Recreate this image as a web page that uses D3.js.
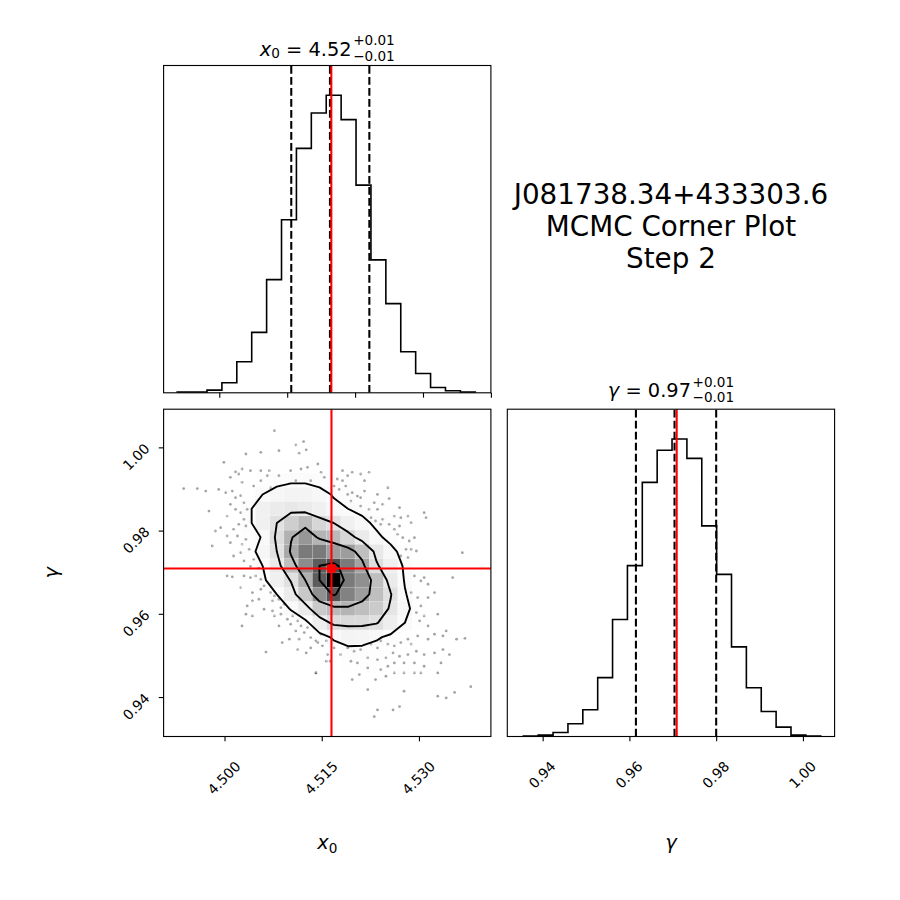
<!DOCTYPE html>
<html><head><meta charset="utf-8">
<script src="https://cdn.jsdelivr.net/npm/d3@7"></script>
<style>
html,body{margin:0;padding:0;background:#fff;}
svg{display:block;font-family:"DejaVu Sans",sans-serif;}
</style></head><body>
<svg id="chart" width="900" height="900"></svg>
<script>
// ---------------- data ----------------
const titleLines = ["J081738.34+433303.6", "MCMC Corner Plot", "Step 2"];
const truthX0 = 4.5165;
const truthGamma = 0.9709;
const quantilesX0 = [4.5106, 4.5163, 4.5221];      // 16, 50, 84 %
const quantilesGamma = [0.9615, 0.9704, 0.9800];
// 1-D histograms (20 bins each)
const histX0Counts = [2, 2, 8, 30, 93, 181, 339, 518, 732, 838, 891, 818, 622, 398, 267, 123, 58, 16, 6, 2];
const histGammaCounts = [1, 4, 12, 38, 80, 176, 350, 511, 760, 856, 890, 832, 630, 485, 268, 146, 75, 28, 4, 1];
const binRangeX0 = [4.4938, 4.5377];
const binRangeGamma = [0.93555, 1.0041];
// axis limits
const limitsTopX0 = [4.4918, 4.5400];
const limits2dX0 = [4.4906, 4.5411];
const limits2dGamma = [0.93052, 1.00917];
const limitsRightGamma = [0.93185, 1.0073];
// ticks
const ticksTopX0 = [4.50, 4.51, 4.52, 4.53, 4.54];
const ticksX0 = [4.500, 4.515, 4.530];
const ticksGamma = [0.94, 0.96, 0.98, 1.00];
// smoothed 2-D histogram (rows: highest gamma first; columns: lowest x0 first)
const density2d = [
  [0,0,0,0,0,1,1,1,1,1,1,0,0,0,0,0,0,0,0,0],
  [0,0,0,0,1,2,2,3,3,2,2,1,0,0,0,0,0,0,0,0],
  [0,0,0,1,2,4,5,6,6,5,4,2,1,0,0,0,0,0,0,0],
  [0,0,1,2,4,7,10,12,12,10,8,5,2,1,0,0,0,0,0,0],
  [0,0,1,3,7,14,19,21,21,18,13,9,5,2,1,0,0,0,0,0],
  [0,0,1,3,11,24,28,30,28,24,17,14,10,5,2,1,0,0,0,0],
  [0,0,1,4,11,24,34,44,52,40,34,24,18,11,5,2,1,0,0,0],
  [0,0,1,3,8,15,37,55,64,54,52,40,28,17,10,4,1,0,0,0],
  [0,0,1,3,9,19,34,58,72,72,62,62,50,30,18,9,3,1,0,0],
  [0,0,0,2,6,14,28,50,67,80,84,72,60,36,24,12,5,2,0,0],
  [0,0,0,1,4,11,24,35,56,80,100,72,66,50,28,13,5,2,0,0],
  [0,0,0,1,2,6,14,28,46,66,82,70,62,50,35,15,6,2,1,0],
  [0,0,0,0,1,3,7,15,28,46,52,54,50,45,32,18,7,3,1,0],
  [0,0,0,0,0,1,3,6,10,26,37,38,38,35,26,14,6,2,1,0],
  [0,0,0,0,0,0,1,2,4,9,16,21,20,16,11,6,3,1,0,0],
  [0,0,0,0,0,0,0,1,2,4,7,10,10,8,6,3,2,1,0,0],
  [0,0,0,0,0,0,0,0,1,2,3,5,5,5,3,2,1,0,0,0],
  [0,0,0,0,0,0,0,0,0,1,1,2,3,2,2,1,1,0,0,0],
  [0,0,0,0,0,0,0,0,0,0,1,1,1,1,1,0,0,0,0,0],
  [0,0,0,0,0,0,0,0,0,0,0,1,0,0,0,0,0,0,0,0]
];
const contourLevels = [14, 34, 56, 80];
// visible posterior samples (outside the contours)
const samplesX0 = [4.5077,4.5122,4.5110,4.5126,4.5115,4.5033,4.4999,4.5027,4.5017,4.5040,4.5056,4.5069,4.5066,4.5084,4.5102,4.5118,4.5128,4.5144,4.5149,4.5133,
4.5110,4.5009,4.5027,4.5045,4.4937,4.4958,4.4971,4.4991,4.5012,4.5017,4.5030,4.4976,4.5009,4.5017,4.5025,4.5030,4.5022,4.5014,4.4994,4.4986,
4.4981,4.5009,4.5027,4.5033,4.5038,4.5025,4.5014,4.5030,4.5045,4.5040,4.5053,4.5087,4.5071,4.5154,4.5100,4.5056,4.5022,4.5002,4.5025,4.5004,
4.5035,4.5033,4.5004,4.5020,4.5056,4.5084,4.5182,4.5174,4.5182,4.5190,4.5197,4.5210,4.5216,4.5223,4.5169,4.5177,4.5190,4.5197,4.5205,4.5210,
4.5195,4.5216,4.5252,4.5254,4.5236,4.5231,4.5210,4.5223,4.5236,4.5244,4.5270,4.5262,4.5272,4.5283,4.5288,4.5308,4.5311,4.5244,4.5254,4.5262,
4.5267,4.5275,4.5285,4.5293,4.5280,4.5288,4.5296,4.5272,4.5283,4.5367,4.5226,4.5233,4.5241,4.5187,4.5161,4.5270,4.5004,4.5012,4.5030,4.5040,
4.5048,4.5056,4.5025,4.5043,4.5056,4.5061,4.5071,4.5077,4.5074,4.5084,4.5087,4.5092,4.5043,4.5053,4.5035,4.5033,4.5043,4.5027,4.5061,4.5074,
4.5077,4.5087,4.5097,4.5105,4.5102,4.5113,4.5118,4.5110,4.5123,4.5128,4.5133,4.5141,4.5144,4.5149,4.5151,4.5157,4.5084,4.5089,4.5100,4.5115,
4.5064,4.5126,4.5141,4.5157,4.5159,4.5113,4.5133,4.5293,4.5303,4.5314,4.5308,4.5352,4.5288,4.5298,4.5314,4.5324,4.5303,4.5296,4.5308,4.5329,
4.5301,4.5314,4.5324,4.5337,4.5342,4.5358,4.5371,4.5314,4.5298,4.5283,4.5288,4.5272,4.5262,4.5252,4.5241,4.5236,4.5226,4.5210,4.5200,4.5190,
4.5179,4.5169,4.5163,4.5195,4.5205,4.5221,4.5236,4.5249,4.5260,4.5270,4.5283,4.5296,4.5308,4.5324,4.5337,4.5347,4.5334,4.5308,4.5293,4.5277,
4.5262,4.5252,4.5241,4.5221,4.5208,4.5197,4.5233,4.5249,4.5262,4.5277,4.5293,4.5303,4.5329,4.5221,4.5277,4.5329,4.5355,4.5380,4.5236,4.5270,
4.5260,4.5231,4.5141,4.5342];
const samplesGamma = [1.0040,1.0014,1.0006,0.9994,0.9986,0.9984,0.9964,0.9948,0.9941,0.9944,0.9944,0.9944,0.9932,0.9932,0.9944,0.9948,0.9952,0.9960,0.9940,0.9920,
0.9920,0.9928,0.9916,0.9907,0.9901,0.9901,0.9895,0.9899,0.9895,0.9879,0.9867,0.9847,0.9863,0.9851,0.9843,0.9827,0.9815,0.9803,0.9807,0.9799,
0.9763,0.9771,0.9767,0.9779,0.9755,0.9747,0.9739,0.9727,0.9731,0.9714,0.9710,0.9907,0.9903,0.9928,0.9912,0.9920,0.9936,0.9891,0.9884,0.9835,
0.9851,0.9811,0.9787,0.9787,0.9988,0.9992,0.9944,0.9924,0.9920,0.9932,0.9940,0.9936,0.9920,0.9940,0.9907,0.9899,0.9887,0.9891,0.9883,0.9879,
0.9871,0.9895,0.9903,0.9877,0.9887,0.9867,0.9859,0.9851,0.9851,0.9863,0.9855,0.9835,0.9831,0.9835,0.9819,0.9843,0.9831,0.9827,0.9815,0.9803,
0.9791,0.9783,0.9775,0.9783,0.9755,0.9755,0.9751,0.9739,0.9735,0.9747,0.9831,0.9823,0.9815,0.9907,0.9879,0.9811,0.9691,0.9689,0.9691,0.9687,
0.9691,0.9683,0.9663,0.9651,0.9659,0.9667,0.9651,0.9643,0.9631,0.9635,0.9615,0.9623,0.9631,0.9635,0.9619,0.9599,0.9595,0.9571,0.9611,0.9607,
0.9595,0.9599,0.9587,0.9595,0.9575,0.9583,0.9571,0.9559,0.9555,0.9567,0.9543,0.9535,0.9531,0.9551,0.9523,0.9535,0.9571,0.9531,0.9539,0.9539,
0.9508,0.9506,0.9458,0.9486,0.9502,0.9514,0.9518,0.9691,0.9679,0.9671,0.9687,0.9687,0.9651,0.9639,0.9639,0.9651,0.9619,0.9603,0.9595,0.9599,
0.9583,0.9571,0.9551,0.9547,0.9559,0.9539,0.9541,0.9539,0.9547,0.9539,0.9527,0.9531,0.9523,0.9527,0.9535,0.9518,0.9527,0.9514,0.9510,0.9518,
0.9502,0.9518,0.9486,0.9486,0.9482,0.9494,0.9490,0.9494,0.9506,0.9498,0.9502,0.9510,0.9502,0.9506,0.9514,0.9502,0.9482,0.9474,0.9482,0.9482,
0.9482,0.9474,0.9466,0.9470,0.9454,0.9442,0.9442,0.9450,0.9458,0.9458,0.9458,0.9458,0.9458,0.9418,0.9414,0.9402,0.9411,0.9425,0.9369,0.9377,
0.9369,0.9353,0.9458,0.9398];

// ---------------- layout ----------------
const svg = d3.select("#chart");
const C0 = [163.6, 490.9], C1 = [507.3, 834.6], R0 = [65.5, 392.8], R1 = [409.2, 736.5];
const FRAME_W = 1.11, TICK_LEN = 4.86, LW = 2.08;
const TICK_FS = 13.9, TITLE_FS = 19.4, LABEL_FS = 19.4, BIG_FS = 27.8;
const RED = "#ff0000";
const fmt2 = d3.format(".2f");

const defs = svg.append("defs");
function panel(id, cx, ry) {
  defs.append("clipPath").attr("id", id).append("rect")
    .attr("x", cx[0]).attr("y", ry[0]).attr("width", cx[1]-cx[0]).attr("height", ry[1]-ry[0]);
  return svg.append("g").attr("clip-path", `url(#${id})`);
}
function frame(cx, ry) {
  svg.append("rect").attr("x", cx[0]).attr("y", ry[0]).attr("width", cx[1]-cx[0]).attr("height", ry[1]-ry[0])
    .attr("fill", "none").attr("stroke", "#000").attr("stroke-width", FRAME_W);
}

// ---------- 1-D histogram helper ----------
function drawHist(g, xs, ys, counts, range, quants, truth) {
  const n = counts.length, w = (range[1]-range[0]) / n;
  const pts = [[range[0], 0]];
  counts.forEach((c, i) => { pts.push([range[0] + i*w, c]); pts.push([range[0] + (i+1)*w, c]); });
  pts.push([range[1], 0]);
  g.append("path").attr("d", d3.line().x(d => xs(d[0])).y(d => ys(d[1]))(pts))
    .attr("fill", "none").attr("stroke", "#000").attr("stroke-width", 1.6).attr("stroke-linejoin", "miter");
  g.selectAll(null).data(quants).join("line")
    .attr("x1", d => xs(d)).attr("x2", d => xs(d)).attr("y1", ys.range()[0]).attr("y2", ys.range()[1])
    .attr("stroke", "#000").attr("stroke-width", LW).attr("stroke-dasharray", "7.7,3.3");
  g.append("line").attr("x1", xs(truth)).attr("x2", xs(truth)).attr("y1", ys.range()[0]).attr("y2", ys.range()[1])
    .attr("stroke", RED).attr("stroke-width", LW);
}

// ---------- top histogram (x0) ----------
const xTop = d3.scaleLinear().domain(limitsTopX0).range(C0);
const yTop = d3.scaleLinear().domain([0, 1.1*d3.max(histX0Counts)]).range([R0[1], R0[0]]);
drawHist(panel("cpTop", C0, R0), xTop, yTop, histX0Counts, binRangeX0, quantilesX0, truthX0);
frame(C0, R0);
svg.append("g").attr("transform", `translate(0,${R0[1]})`)
  .call(d3.axisBottom(xTop).tickValues(ticksTopX0).tickSize(TICK_LEN).tickFormat(""))
  .call(g => g.select(".domain").remove())
  .call(g => g.selectAll("line").attr("stroke-width", FRAME_W));

// ---------- right histogram (gamma) ----------
const xRight = d3.scaleLinear().domain(limitsRightGamma).range(C1);
const yRight = d3.scaleLinear().domain([0, 1.1*d3.max(histGammaCounts)]).range([R1[1], R1[0]]);
drawHist(panel("cpRight", C1, R1), xRight, yRight, histGammaCounts, binRangeGamma, quantilesGamma, truthGamma);
frame(C1, R1);

// ---------- 2-D panel ----------
const x2d = d3.scaleLinear().domain(limits2dX0).range(C0);
const y2d = d3.scaleLinear().domain(limits2dGamma).range([R1[1], R1[0]]);
const g2 = panel("cp2d", C0, R1);
const nx = density2d[0].length, ny = density2d.length;
const dxB = (binRangeX0[1]-binRangeX0[0]) / nx, dyB = (binRangeGamma[1]-binRangeGamma[0]) / ny;
// data points
g2.append("g").selectAll("circle").data(d3.range(samplesX0.length)).join("circle")
  .attr("cx", i => x2d(samplesX0[i])).attr("cy", i => y2d(samplesGamma[i])).attr("r", 1.4)
  .attr("fill", "#000").attr("fill-opacity", 0.36);
// contours
const flat = density2d.flat();
const contours = d3.contours().size([nx, ny]).thresholds(contourLevels)(flat);
const proj = d3.geoTransform({ point(u, v) {
  this.stream.point(x2d(binRangeX0[0] + u*dxB), y2d(binRangeGamma[1] - v*dyB)); } });
const cpath = d3.geoPath(proj);
// white background inside the outermost level
g2.append("path").attr("d", cpath(contours[0])).attr("fill", "#fff").attr("stroke", "none");
// density cells
const hmax = d3.max(flat);
const cells = [];
density2d.forEach((row, j) => row.forEach((h, i) => { if (h > 0) cells.push({i, j, h}); }));
g2.append("g").selectAll("rect").data(cells).join("rect")
  .attr("x", d => x2d(binRangeX0[0] + d.i*dxB))
  .attr("width", d => x2d(binRangeX0[0] + (d.i+1)*dxB) - x2d(binRangeX0[0] + d.i*dxB))
  .attr("y", d => y2d(binRangeGamma[1] - d.j*dyB))
  .attr("height", d => y2d(binRangeGamma[1] - (d.j+1)*dyB) - y2d(binRangeGamma[1] - d.j*dyB))
  .attr("fill", d => { const t = 1 - d.h/hmax; const c = Math.round(255*t); return `rgb(${c},${c},${c})`; })
  .attr("fill-opacity", d => d.h/hmax)
  .attr("stroke", "#fff").attr("stroke-opacity", 0.35).attr("stroke-width", 0.5);
// contour lines
g2.append("g").selectAll("path").data(contours).join("path")
  .attr("d", cpath).attr("fill", "none").attr("stroke", "#000").attr("stroke-width", 1.9)
  .attr("stroke-linejoin", "round");
// truths
g2.append("line").attr("x1", x2d(truthX0)).attr("x2", x2d(truthX0)).attr("y1", R1[0]).attr("y2", R1[1])
  .attr("stroke", RED).attr("stroke-width", LW);
g2.append("line").attr("y1", y2d(truthGamma)).attr("y2", y2d(truthGamma)).attr("x1", C0[0]).attr("x2", C0[1])
  .attr("stroke", RED).attr("stroke-width", LW);
g2.append("rect").attr("x", x2d(truthX0) - 4.2).attr("y", y2d(truthGamma) - 4.2)
  .attr("width", 8.4).attr("height", 8.4).attr("fill", RED);
frame(C0, R1);

// ---------- axes with rotated labels ----------
function styleX(g) {
  g.select(".domain").remove();
  g.selectAll("line").attr("stroke-width", FRAME_W);
  g.selectAll("text").each(function() {
    const t = d3.select(this);
    t.attr("y", null).attr("dy", null).attr("x", null)
      .attr("font-size", TICK_FS).attr("font-family", "DejaVu Sans").attr("text-anchor", "middle")
      .attr("dominant-baseline", "central");
    const w = this.getComputedTextLength();
    const half = (w + 1.164*TICK_FS) / (2*Math.SQRT2);
    t.attr("transform", `translate(-1,${21.5 + half}) rotate(-45)`);
  });
}
svg.append("g").attr("transform", `translate(0,${R1[1]})`)
  .call(d3.axisBottom(x2d).tickValues(ticksX0).tickSize(TICK_LEN).tickFormat(d3.format(".3f")))
  .call(styleX);
svg.append("g").attr("transform", `translate(0,${R1[1]})`)
  .call(d3.axisBottom(xRight).tickValues(ticksGamma).tickSize(TICK_LEN).tickFormat(fmt2))
  .call(styleX);
svg.append("g").attr("transform", `translate(${C0[0]},0)`)
  .call(d3.axisLeft(y2d).tickValues(ticksGamma).tickSize(TICK_LEN).tickFormat(fmt2))
  .call(g => {
    g.select(".domain").remove();
    g.selectAll("line").attr("stroke-width", FRAME_W);
    g.selectAll("text").each(function() {
      const t = d3.select(this);
      t.attr("x", null).attr("dy", null).attr("y", null)
        .attr("font-size", TICK_FS).attr("font-family", "DejaVu Sans").attr("text-anchor", "middle")
        .attr("dominant-baseline", "central");
      const w = this.getComputedTextLength();
      const half = (w + 1.164*TICK_FS) / (2*Math.SQRT2);
      t.attr("transform", `translate(${-(10.8 + half)},9) rotate(-45)`);
    });
  });

// ---------- titles with +/- errors (one text element, stacked scripts) ----------
function mathTitle(cx, baseY, sym, sub, q) {
  const val = fmt2(q[1]), plus = fmt2(q[2]-q[1]), minus = fmt2(q[1]-q[0]);
  const sfs = TITLE_FS*0.7;
  const t = svg.append("text").attr("y", baseY).attr("font-size", TITLE_FS);
  t.append("tspan").attr("font-style", "italic").text(sym);
  if (sub) t.append("tspan").attr("font-size", sfs).attr("dy", 2.5).text(sub);
  t.append("tspan").attr("dy", sub ? -2.5 : 0).text(" = " + val);
  const sp = t.append("tspan").attr("font-size", sfs).attr("dy", -10.6).text("+" + plus);
  const sb = t.append("tspan").attr("font-size", sfs).attr("dy", 15.6).text("\u2212" + minus);
  const node = t.node();
  const nMain = (sub ? sym.length + sub.length : sym.length) + (" = " + val).length;
  const w = node.getSubStringLength(0, nMain);
  const ws = Math.max(sp.node().getComputedTextLength(), sb.node().getComputedTextLength());
  const x0 = cx - (w + 1.5 + ws) / 2;
  t.attr("x", x0);
  sp.attr("x", x0 + w + 1.5);
  sb.attr("x", x0 + w + 1.5);
}
mathTitle((C0[0]+C0[1])/2, 55.7, "x", "0", quantilesX0);
mathTitle((C1[0]+C1[1])/2, 397.2, "\u03b3", null, quantilesGamma);

// ---------- axis labels ----------
const xl = svg.append("text").attr("x", (C0[0]+C0[1])/2).attr("y", 849).attr("text-anchor", "middle").attr("font-size", LABEL_FS);
xl.append("tspan").attr("font-style", "italic").text("x");
xl.append("tspan").attr("font-size", LABEL_FS*0.7).attr("dy", 3.5).text("0");
svg.append("text").attr("x", (C1[0]+C1[1])/2).attr("y", 849).attr("text-anchor", "middle")
  .attr("font-size", LABEL_FS).attr("font-style", "italic").text("\u03b3");
svg.append("text").attr("transform", `translate(57.6,${(R1[0]+R1[1])/2}) rotate(-90)`).attr("text-anchor", "middle")
  .attr("font-size", LABEL_FS).attr("font-style", "italic").text("\u03b3");

// ---------- big title ----------
svg.append("g").selectAll("text").data(titleLines).join("text")
  .attr("x", (C1[0]+C1[1])/2).attr("y", (d, i) => 203.5 + i*32.2)
  .attr("text-anchor", "middle").attr("font-size", BIG_FS).text(d => d);
</script>
</body></html>
